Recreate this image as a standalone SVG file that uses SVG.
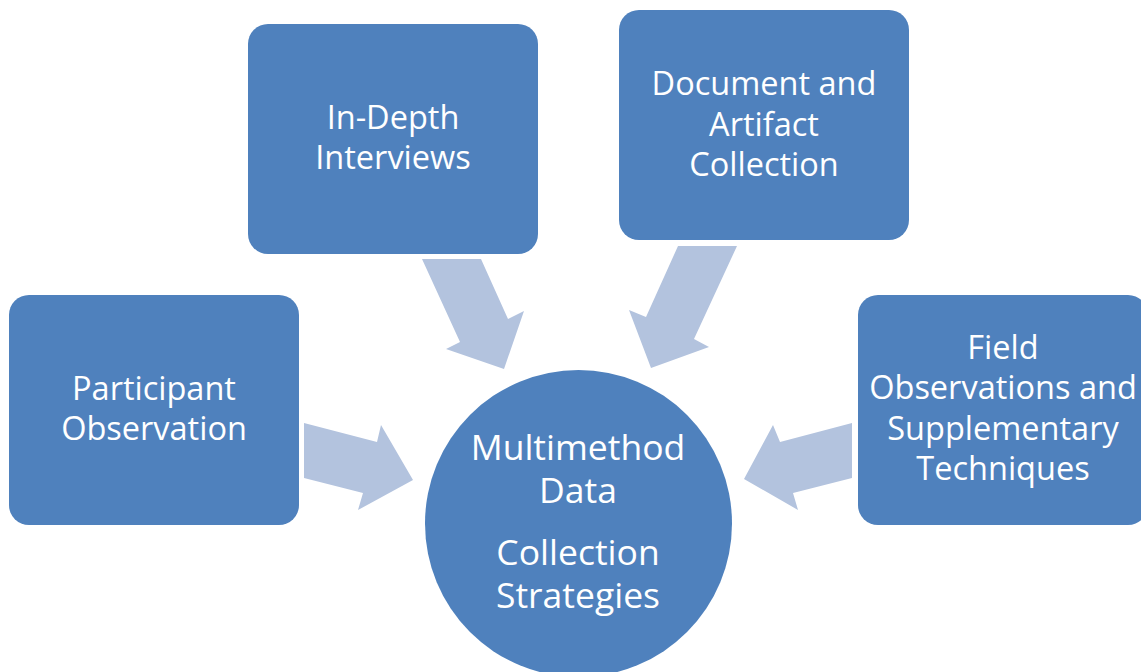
<svg xmlns="http://www.w3.org/2000/svg" width="1141" height="672" viewBox="0 0 1141 672">
<style>
.box{fill:#4F81BD;}
.arr{fill:#B3C3DE;}
.t{fill:#FFFFFF;font-family:"Open Sans","Noto Sans",sans-serif;font-size:32.5px;text-anchor:middle;}
.c{font-size:35.5px;}
</style>
<rect width="1141" height="672" fill="#FFFFFF"/>
<g id="connectors">
<polygon class="arr" points="422,259 481,259 508,319 524,311 504,369 446,349 460,342"/>
<polygon class="arr" points="678,246 737,246 694,339 709,347 651,368 629,310 646,317"/>
<polygon class="arr" points="304,423 377,442 381,425 413,480 358,510 363,493 304,478"/>
<polygon class="arr" points="852,423 780,442 773,425 744,479 798,510 793,493 852,478"/>
</g>
<g id="participant">
<rect class="box" x="9" y="295" width="290" height="230" rx="20"/>
<text class="t" x="154" y="400">Participant</text>
<text class="t" x="154" y="440">Observation</text>
</g>
<g id="interviews">
<rect class="box" x="248" y="24" width="290" height="230" rx="20"/>
<text class="t" x="393" y="129">In-Depth</text>
<text class="t" x="393" y="169">Interviews</text>
</g>
<g id="document">
<rect class="box" x="619" y="10" width="290" height="230" rx="20"/>
<text class="t" x="764" y="95">Document and</text>
<text class="t" x="764" y="136">Artifact</text>
<text class="t" x="764" y="176">Collection</text>
</g>
<g id="field">
<rect class="box" x="858" y="295" width="290" height="230" rx="20"/>
<text class="t" x="1003" y="359">Field</text>
<text class="t" x="1003" y="399">Observations and</text>
<text class="t" x="1003" y="440">Supplementary</text>
<text class="t" x="1003" y="480">Techniques</text>
</g>
<g id="center">
<circle class="box" cx="578.5" cy="523.5" r="153.5"/>
<text class="t c" x="578" y="460">Multimethod</text>
<text class="t c" x="578" y="503">Data</text>
<text class="t c" x="578" y="565">Collection</text>
<text class="t c" x="578" y="608">Strategies</text>
</g>
</svg>
